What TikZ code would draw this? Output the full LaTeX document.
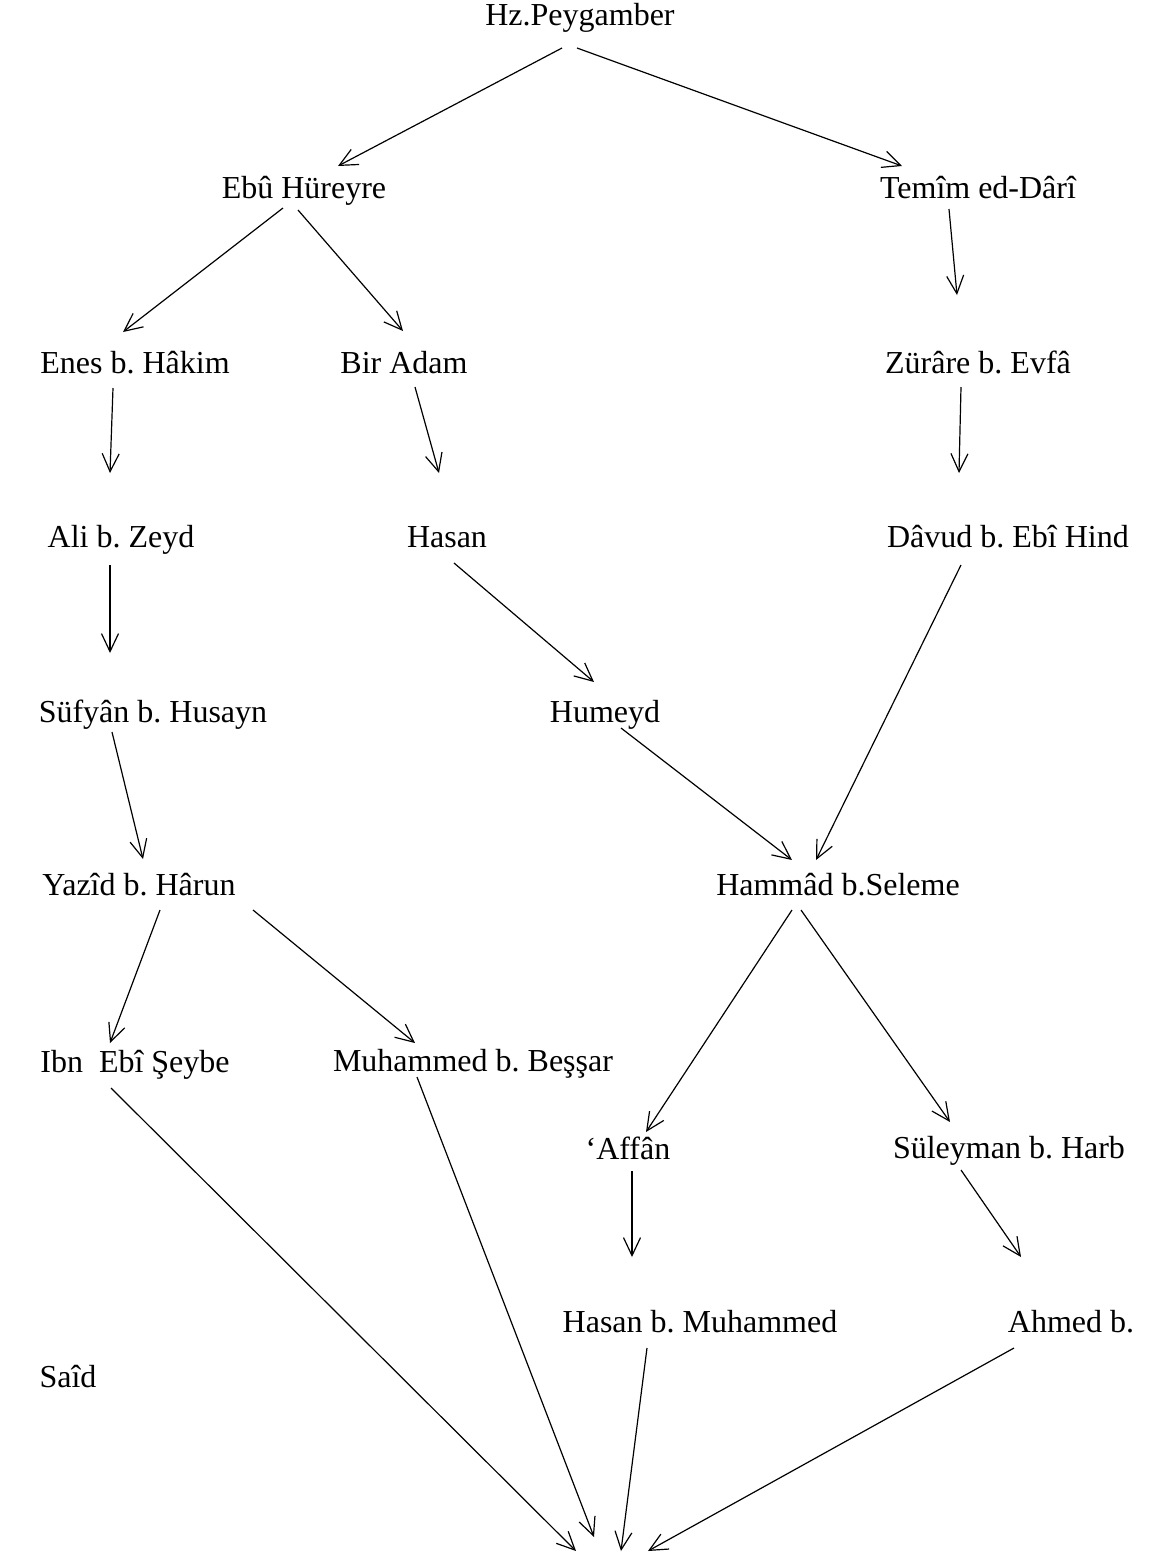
\documentclass[tikz,border=0pt]{standalone}
\usepackage{fontspec}
\setmainfont{Liberation Serif}
\usetikzlibrary{arrows.meta}
\frenchspacing
\begin{document}
\begin{tikzpicture}[x=0.5pt,y=-0.5pt,
  lbl/.style={anchor=base,inner sep=0pt,font=\fontsize{16}{19}\selectfont},
  arr/.style={line width=0.6pt,-{Straight Barb[length=9pt,width=8.5pt]}}]
\useasboundingbox (0,0) rectangle (1153,1555);
\fill[white] (0,0) rectangle (1153,1555);
% names
\node[lbl] (hz) at (580,25) {Hz.Peygamber};
\node[lbl] (ebu) at (304,198) {Ebû Hüreyre};
\node[lbl] (temim) at (978,198) {Temîm ed-Dârî};
\node[lbl] (enes) at (135,373) {Enes b. Hâkim};
\node[lbl] (bir) at (404,373) {Bir Adam};
\node[lbl] (zurare) at (978,373) {Zürâre b. Evfâ};
\node[lbl] (ali) at (121,547) {Ali b. Zeyd};
\node[lbl] (hasan) at (447,547) {Hasan};
\node[lbl] (davud) at (1008,547) {Dâvud b. Ebî Hind};
\node[lbl] (sufyan) at (153,722) {Süfyân b. Husayn};
\node[lbl] (humeyd) at (605,722) {Humeyd};
\node[lbl] (yazid) at (139,895) {Yazîd b. Hârun};
\node[lbl] (hammad) at (838,895) {Hammâd b.Seleme};
\node[lbl] (ibn) at (135,1072) {Ibn\ \ Ebî Şeybe};
\node[lbl] (muh) at (473,1071) {Muhammed b. Beşşar};
\node[lbl] (affan) at (628,1159) {‘Affân};
\node[lbl] (suleyman) at (1009,1158) {Süleyman b. Harb};
\node[lbl] (hasanm) at (700,1332) {Hasan b. Muhammed};
\node[lbl] (ahmed) at (1071,1332) {Ahmed b.};
\node[lbl] (said) at (68,1387) {Saîd};
% free ends at the bottom
\coordinate (t1) at (576,1551);
\coordinate (t2) at (594,1537);
\coordinate (t3) at (621,1551);
\coordinate (t4) at (648,1551);
% connectors
\draw[arr] ([shift={(-18,23)}]hz.base) -- ([shift={(34,-32)}]ebu.base);
\draw[arr] ([shift={(-3,23)}]hz.base) -- ([shift={(-76,-32)}]temim.base);
\draw[arr] ([shift={(-21,10)}]ebu.base) -- ([shift={(-12,-41)}]enes.base);
\draw[arr] ([shift={(-6,12)}]ebu.base) -- ([shift={(-1,-42)}]bir.base);
\draw[arr] ([shift={(-29,11)}]temim.base) -- ([shift={(-21,-78)}]zurare.base);
\draw[arr] ([shift={(-22,15)}]enes.base) -- ([shift={(-11,-74)}]ali.base);
\draw[arr] ([shift={(11,14)}]bir.base) -- ([shift={(-8,-74)}]hasan.base);
\draw[arr] ([shift={(-17,14)}]zurare.base) -- ([shift={(-49,-74)}]davud.base);
\draw[arr] ([shift={(-11,18)}]ali.base) -- ([shift={(-43,-69)}]sufyan.base);
\draw[arr] ([shift={(7,16)}]hasan.base) -- ([shift={(-11,-40)}]humeyd.base);
\draw[arr] ([shift={(-47,18)}]davud.base) -- ([shift={(-22,-35)}]hammad.base);
\draw[arr] ([shift={(-41,10)}]sufyan.base) -- ([shift={(4,-36)}]yazid.base);
\draw[arr] ([shift={(16,6)}]humeyd.base) -- ([shift={(-46,-35)}]hammad.base);
\draw[arr] ([shift={(21,15)}]yazid.base) -- ([shift={(-25,-29)}]ibn.base);
\draw[arr] ([shift={(114,15)}]yazid.base) -- ([shift={(-58,-28)}]muh.base);
\draw[arr] ([shift={(-46,15)}]hammad.base) -- ([shift={(18,-27)}]affan.base);
\draw[arr] ([shift={(-37,15)}]hammad.base) -- ([shift={(-59,-36)}]suleyman.base);
\draw[arr] ([shift={(-24,16)}]ibn.base) -- (t1);
\draw[arr] ([shift={(-56,6)}]muh.base) -- (t2);
\draw[arr] ([shift={(4,12)}]affan.base) -- ([shift={(-68,-75)}]hasanm.base);
\draw[arr] ([shift={(-48,12)}]suleyman.base) -- ([shift={(-50,-75)}]ahmed.base);
\draw[arr] ([shift={(-53,16)}]hasanm.base) -- (t3);
\draw[arr] ([shift={(-57,16)}]ahmed.base) -- (t4);
\end{tikzpicture}
\end{document}
